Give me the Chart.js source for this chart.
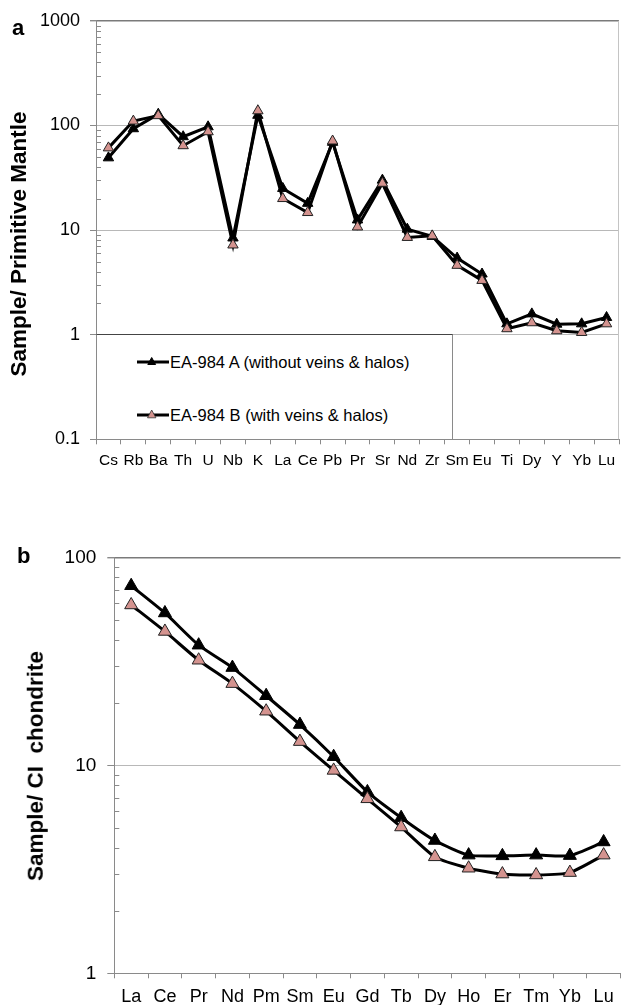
<!DOCTYPE html>
<html>
<head>
<meta charset="utf-8">
<script src="https://cdn.jsdelivr.net/npm/chart.js@4.4.1/dist/chart.umd.min.js"></script>
<style>
  html, body { margin:0; padding:0; background:#fff; width:624px; height:1005px; overflow:hidden; position:relative; font-family:"Liberation Sans", Arial, sans-serif; }
  canvas { position:absolute; }
  .lbl { position:absolute; font-weight:bold; color:#000; white-space:nowrap; }
  .ytitle { position:absolute; font-weight:bold; font-size:22.5px; line-height:22.5px; white-space:nowrap; transform:translate(-50%,-50%) rotate(-90deg); color:#000; }
  #legend { position:absolute; left:96px; top:334px; width:355px; height:104px; background:#fff; border:1px solid #8a8a8a; border-top-color:#444; }
  .lrow { position:absolute; left:40px; height:20px; display:flex; align-items:center; font-size:16.5px; color:#000; white-space:nowrap; }
  .lrow svg { margin-right:0px; }
</style>
</head>
<body>
<canvas id="c1" width="626" height="470" style="left:0;top:0;width:626px;height:470px"></canvas>
<canvas id="c2" width="629" height="505" style="left:0;top:500px;width:629px;height:505px"></canvas>

<div class="lbl" style="left:12px;top:17px;font-size:22px;line-height:22px;">a</div>
<div class="lbl" style="left:17px;top:545px;font-size:22px;line-height:22px;">b</div>
<div class="ytitle" style="left:19px;top:244px;">Sample/ Primitive Mantle</div>
<div class="ytitle" style="left:36px;top:766px;">Sample/ CI&nbsp;&nbsp;chondrite</div>

<div id="legend">
  <div class="lrow" style="top:17px;">
    <svg width="33" height="20"><line x1="0" y1="10" x2="32" y2="10" stroke="#000" stroke-width="3"/><polygon points="14.7,5.5 10.8,12.5 18.6,12.5" fill="#000" stroke="#000" stroke-width="1"/></svg>
    <span>EA-984 A (without veins &amp; halos)</span>
  </div>
  <div class="lrow" style="top:70px;">
    <svg width="33" height="20"><line x1="0" y1="10" x2="32" y2="10" stroke="#000" stroke-width="3"/><polygon points="14.7,5 10.5,12.8 18.9,12.8" fill="#d4938f" stroke="#333" stroke-width="0.8"/></svg>
    <span>EA-984 B (with veins &amp; halos)</span>
  </div>
</div>

<script>
// ---- Data: spider diagram (a), normalised to primitive mantle ----
const pmElements = ['Cs','Rb','Ba','Th','U','Nb','K','La','Ce','Pb','Pr','Sr','Nd','Zr','Sm','Eu','Ti','Dy','Y','Yb','Lu'];
const pmSampleA  = [49, 93, 128, 78, 97, 8.4, 125, 25, 18, 69, 12.5, 30, 10.2, 8.7, 5.4, 3.8, 1.27, 1.58, 1.26, 1.27, 1.46];
const pmSampleB  = [61, 110, 124, 64, 87, 7.2, 138, 20, 14.7, 71, 10.7, 28, 8.5, 8.8, 4.6, 3.3, 1.14, 1.3, 1.09, 1.05, 1.27];
const pmTicks    = [0.1, 1, 10, 100, 1000];

// ---- Data: REE diagram (b), normalised to CI chondrite ----
const reeElements = ['La','Ce','Pr','Nd','Pm','Sm','Eu','Gd','Tb','Dy','Ho','Er','Tm','Yb','Lu'];
const ciSampleA   = [73, 54, 37.8, 29.5, 21.6, 15.7, 11.0, 7.45, 5.6, 4.35, 3.7, 3.67, 3.7, 3.68, 4.28];
const ciSampleB   = [59, 44, 32, 24.7, 18.2, 13.0, 9.45, 6.9, 5.05, 3.63, 3.2, 3.0, 2.97, 3.05, 3.7];
const ciTicks     = [1, 10, 100];

const seriesNames = ['EA-984 A (without veins & halos)', 'EA-984 B (with veins & halos)'];

const FONT = '"Liberation Sans", Arial, sans-serif';
const PINK = '#d4938f';

const minorTicks = {
  id: 'minorTicks',
  afterDraw(chart, args, opts) {
    const s = chart.scales.y, ctx = chart.ctx;
    ctx.save();
    ctx.strokeStyle = opts.color || '#8a8a8a';
    ctx.lineWidth = 1;
    const e0 = Math.round(Math.log10(s.min)), e1 = Math.round(Math.log10(s.max));
    for (let e = e0; e < e1; e++) {
      for (let m = 2; m <= 9; m++) {
        const y = Math.round(s.getPixelForValue(m * Math.pow(10, e))) + 0.5;
        ctx.beginPath();
        ctx.moveTo(s.right - (opts.out || 0), y);
        ctx.lineTo(s.right + (opts.len || 5), y);
        ctx.stroke();
      }
    }
    if (opts.rightBorder) {
      const x = chart.chartArea.right - 0.5;
      ctx.strokeStyle = '#c4c4c4';
      ctx.beginPath(); ctx.moveTo(x, chart.chartArea.top); ctx.lineTo(x, chart.chartArea.bottom); ctx.stroke();
    }
    ctx.restore();
  }
};

function makeChart(id, cfg) {
  return new Chart(document.getElementById(id), {
    type: 'line',
    data: {
      labels: cfg.labels,
      datasets: [
        { label: seriesNames[0], data: cfg.a, borderColor: '#000', borderWidth: cfg.lw, pointStyle: 'triangle',
          pointRadius: cfg.pr, pointBackgroundColor: '#000', pointBorderColor: '#000', pointBorderWidth: 1,
          tension: cfg.tension, order: 1 },
        { label: seriesNames[1], data: cfg.b, borderColor: '#000', borderWidth: cfg.lw, pointStyle: 'triangle',
          pointRadius: cfg.pr, pointBackgroundColor: PINK, pointBorderColor: '#222', pointBorderWidth: 1,
          tension: cfg.tension, order: 0 }
      ]
    },
    options: {
      responsive: false,
      animation: false,
      devicePixelRatio: 1,
      layout: { padding: cfg.padding },
      plugins: {
        legend: { display: false },
        tooltip: { enabled: false },
        minorTicks: { color: '#8a8a8a', len: 5, out: 0, rightBorder: cfg.rightBorder }
      },
      scales: {
        x: {
          type: 'category',
          offset: true,
          grid: { offset: true, drawOnChartArea: false, tickLength: 5, color: '#8a8a8a' },
          border: { color: '#8a8a8a', width: 1 },
          ticks: { color: '#000', font: { family: FONT, size: cfg.xfs }, padding: cfg.xpad, maxRotation: 0, autoSkip: false },
          afterFit(s) { s.height = cfg.xh; }
        },
        y: {
          type: 'logarithmic',
          min: cfg.ticks[0],
          max: cfg.ticks[cfg.ticks.length - 1],
          afterBuildTicks(s) { s.ticks = cfg.ticks.map(v => ({ value: v, major: true })); },
          grid: {
            tickLength: cfg.ytl,
            color: ctx => (ctx.tick && ctx.tick.value === cfg.ticks[cfg.ticks.length - 1]) ? '#7a7a7a' : '#b8b8b8',
            tickColor: '#8a8a8a',
            lineWidth: ctx => (ctx.tick && ctx.tick.value === cfg.ticks[cfg.ticks.length - 1]) ? 1.4 : 1
          },
          border: { color: '#8a8a8a', width: 1 },
          ticks: { color: '#000', font: { family: FONT, size: cfg.yfs }, padding: cfg.ypad, autoSkip: false,
                   callback: v => String(v) },
          afterFit(s) { s.width = cfg.yw; }
        }
      }
    },
    plugins: [minorTicks]
  });
}

makeChart('c1', {
  labels: pmElements, a: pmSampleA, b: pmSampleB, ticks: pmTicks,
  lw: 3, pr: 6, tension: 0,
  padding: { top: 20, right: 2, left: 0, bottom: 0 },
  yw: 96, xh: 470 - 439.3, xfs: 15.5, yfs: 18, xpad: 7, ypad: 10, ytl: 6, rightBorder: true
});

makeChart('c2', {
  labels: reeElements, a: ciSampleA, b: ciSampleB, ticks: ciTicks,
  lw: 3, pr: 7.5, tension: 0.2,
  padding: { top: 57.3, right: 0, left: 0, bottom: 0 },
  yw: 114.3, xh: 505 - 473.3, xfs: 18, yfs: 19, xpad: 8, ypad: 11, ytl: 7, rightBorder: false
});
</script>
</body>
</html>
